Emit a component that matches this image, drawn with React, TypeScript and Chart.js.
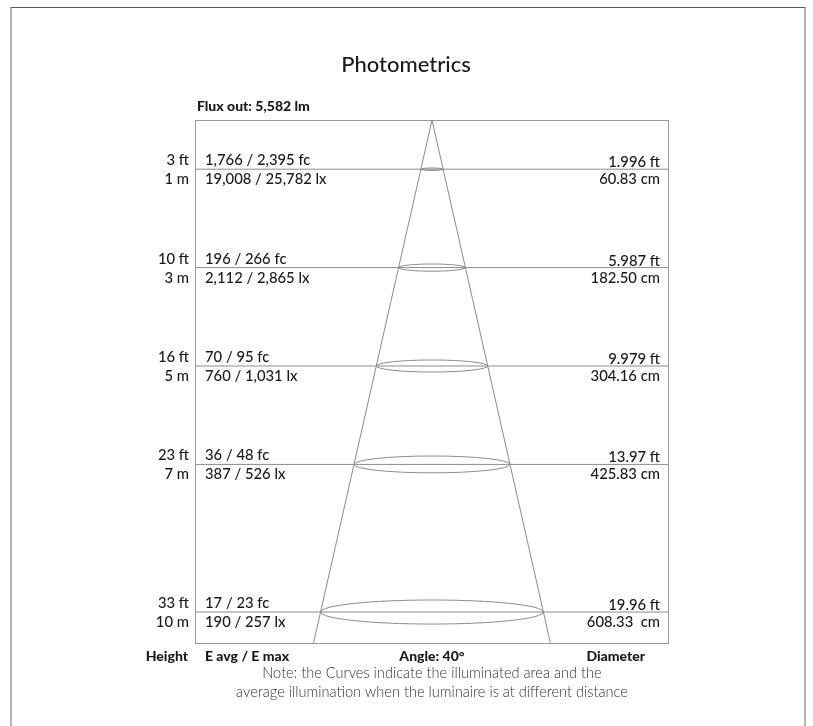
import React, { useEffect, useRef } from "react";
import { Chart, registerables } from "chart.js";

Chart.register(...registerables);

// ---- data ----
const heightsM = [1, 3, 5, 7, 10];
const heightFtLabels = ["3 ft", "10 ft", "16 ft", "23 ft", "33 ft"];
const heightMLabels = ["1 m", "3 m", "5 m", "7 m", "10 m"];
const fcLabels = ["1,766 / 2,395 fc", "196 / 266 fc", "70 / 95 fc", "36 / 48 fc", "17 / 23 fc"];
const lxLabels = ["19,008 / 25,782 lx", "2,112 / 2,865 lx", "760 / 1,031 lx", "387 / 526 lx", "190 / 257 lx"];
const diameterFtLabels = ["1.996 ft", "5.987 ft", "9.979 ft", "13.97 ft", "19.96 ft"];
const diameterCm = [60.83, 182.5, 304.16, 425.83, 608.33];
const diameterCmLabels = ["60.83 cm", "182.50 cm", "304.16 cm", "425.83 cm", "608.33  cm"];
const titleText = "Photometrics";
const fluxText = "Flux out: 5,582 lm";
const footerLabels = ["Height", "E avg / E max", "Angle: 40°", "Diameter"];
const noteLines = [
  "Note: the Curves indicate the illuminated area and the",
  "average illumination when the luminaire is at different distance",
];

// axis ranges (metres)
const X_RANGE = 6.47;
const Y_MAX = 10.65;

const FONT = "Lato, 'Noto Sans', 'DejaVu Sans', sans-serif";
const LINE_COLOR = "#8c8c8c";
const TEXT_COLOR = "#1a1a1a";

export default function App() {
  const ref = useRef<HTMLCanvasElement | null>(null);

  useEffect(() => {
    if (!ref.current) return;
    // cone spread derived from the largest measured diameter
    const lastIdx = heightsM.length - 1;
    const spread = diameterCm[lastIdx] / 200 / heightsM[lastIdx];
    const coneData = [
      { x: -spread * Y_MAX, y: Y_MAX },
      { x: 0, y: 0 },
      { x: spread * Y_MAX, y: Y_MAX },
    ];
    const levelSets = heightsM.map((h) => ({
      data: [
        { x: -X_RANGE, y: h },
        { x: X_RANGE, y: h },
      ],
      showLine: true,
      borderColor: LINE_COLOR,
      borderWidth: 1,
      pointRadius: 0,
    }));

    const overlay = {
      id: "photometricOverlay",
      beforeDatasetsDraw(chart: any) {
        const { ctx, chartArea } = chart;
        ctx.save();
        ctx.strokeStyle = "#9a9a9a";
        ctx.lineWidth = 1;
        ctx.strokeRect(
          chartArea.left + 0.5,
          chartArea.top + 0.5,
          chartArea.right - chartArea.left - 1,
          chartArea.bottom - chartArea.top - 1
        );
        ctx.restore();
      },
      afterDatasetsDraw(chart: any) {
        const { ctx } = chart;
        const xs = chart.scales.x;
        const ys = chart.scales.y;
        ctx.save();
        ctx.strokeStyle = LINE_COLOR;
        ctx.lineWidth = 1;
        heightsM.forEach((h, i) => {
          const cx = xs.getPixelForValue(0);
          const cy = ys.getPixelForValue(h);
          const rx = xs.getPixelForValue(diameterCm[i] / 200) - cx;
          const ry = rx * 0.108;
          ctx.beginPath();
          ctx.ellipse(cx, cy, rx, ry, 0, 0, Math.PI * 2);
          ctx.stroke();
        });
        ctx.restore();
      },
      afterDraw(chart: any) {
        const { ctx, chartArea } = chart;
        const xs = chart.scales.x;
        const ys = chart.scales.y;
        const cx = xs.getPixelForValue(0);
        ctx.save();
        ctx.fillStyle = TEXT_COLOR;
        ctx.textBaseline = "alphabetic";

        // title
        ctx.font = `500 22px ${FONT}`;
        ctx.textAlign = "center";
        ctx.fillText(titleText, 406, 72);

        // flux
        ctx.font = `900 14px ${FONT}`;
        ctx.textAlign = "left";
        ctx.fillText(fluxText, chartArea.left + 2, 111);

        heightsM.forEach((h, i) => {
          const py = ys.getPixelForValue(h);
          ctx.font = `500 14.8px ${FONT}`;
          ctx.textAlign = "right";
          ctx.fillText(heightFtLabels[i], chartArea.left - 6, py - 4);
          ctx.fillText(heightMLabels[i], chartArea.left - 6, py + 15);
          ctx.textAlign = "left";
          ctx.fillText(fcLabels[i], chartArea.left + 10, py - 4);
          ctx.fillText(lxLabels[i], chartArea.left + 10, py + 15);
          ctx.textAlign = "right";
          ctx.fillText(diameterFtLabels[i], chartArea.right - 9, py - 2);
          ctx.fillText(diameterCmLabels[i], chartArea.right - 9, py + 15);
        });

        // footer
        const fy = chartArea.bottom + 17;
        ctx.font = `900 14px ${FONT}`;
        ctx.textAlign = "right";
        ctx.fillText(footerLabels[0], chartArea.left - 7, fy);
        ctx.textAlign = "left";
        ctx.fillText(footerLabels[1], chartArea.left + 10, fy);
        ctx.textAlign = "center";
        ctx.fillText(footerLabels[2], cx, fy);
        ctx.textAlign = "right";
        ctx.fillText(footerLabels[3], chartArea.right - 24, fy);

        // note
        ctx.font = `300 14.6px ${FONT}`;
        ctx.fillStyle = "#333";
        ctx.textAlign = "center";
        ctx.fillText(noteLines[0], cx, chartArea.bottom + 34);
        ctx.fillText(noteLines[1], cx, chartArea.bottom + 53);
        ctx.restore();
      },
    };

    const chart = new Chart(ref.current, {
      type: "scatter",
      data: {
        datasets: [
          {
            data: coneData,
            showLine: true,
            borderColor: LINE_COLOR,
            borderWidth: 1,
            pointRadius: 0,
            tension: 0,
          } as any,
          ...(levelSets as any[]),
        ],
      },
      options: {
        responsive: false,
        animation: false,
        layout: { padding: { left: 195, top: 120, right: 144, bottom: 82 } },
        plugins: {
          legend: { display: false },
          tooltip: { enabled: false },
          title: { display: false },
        },
        scales: {
          x: { type: "linear", min: -X_RANGE, max: X_RANGE, display: false },
          y: { type: "linear", min: 0, max: Y_MAX, reverse: true, display: false },
        },
      },
      plugins: [overlay],
    });
    return () => chart.destroy();
  }, []);

  return (
    <div
      style={{
        position: "absolute",
        left: 0,
        top: 0,
        width: 813,
        height: 726,
        overflow: "hidden",
        background: "#fff",
      }}
    >
      <div
        style={{
          position: "absolute",
          left: 10,
          top: 7,
          width: 796,
          height: 719,
          boxSizing: "border-box",
          borderTop: "1px solid #555",
          borderLeft: "2px solid #b3b3b3",
          borderRight: "2px solid #b3b3b3",
        }}
      />
      <canvas
        ref={ref}
        width={813}
        height={726}
        style={{ position: "absolute", left: 0, top: 0 }}
      />
    </div>
  );
}
